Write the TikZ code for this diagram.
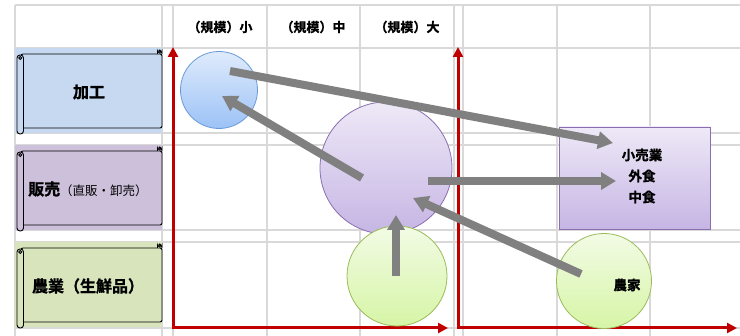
\documentclass[tikz,border=0pt]{standalone}
\usepackage{fontspec}
\setmainfont{Noto Sans CJK JP}[BoldFont={Noto Sans CJK JP Bold}, BoldFeatures={FakeBold=1.2}]
\usetikzlibrary{arrows.meta}
\definecolor{gridc}{HTML}{D9D9D9}
\definecolor{axisred}{HTML}{C00000}
\definecolor{arrowgray}{HTML}{808080}
\definecolor{kakofill}{HTML}{C6D9F0}
\definecolor{hanfill}{HTML}{CCC0DA}
\definecolor{nofill}{HTML}{D8E4BC}
\definecolor{bluetop}{HTML}{DFEBFC}
\definecolor{bluebot}{HTML}{9CC2F6}
\definecolor{bluebd}{HTML}{6A9BD8}
\definecolor{purtop}{HTML}{EEE9F7}
\definecolor{purbot}{HTML}{C6B5E4}
\definecolor{purbd}{HTML}{8A6EB0}
\definecolor{grntop}{HTML}{F2FBE5}
\definecolor{grnbot}{HTML}{D6F5A6}
\definecolor{grnbd}{HTML}{9BBB59}
\tikzset{
  gridline/.style={draw=gridc, line width=2pt},
  scrollline/.style={draw=black, line width=0.9pt},
  raxis/.style={draw=axisred, line width=3pt, {Triangle[width=10pt,length=10pt]}-{Triangle[width=10pt,length=10pt]}},
  garrow/.style={draw=arrowgray, line width=8pt, -{Triangle[width=17pt,length=15pt]}},
  bubble/.style={circle, inner sep=0pt, line width=0.8pt},
  head/.style={font=\bfseries\fontsize{13}{15}\selectfont},
  rowlbl/.style={font=\bfseries\fontsize{16}{19}\selectfont},
  boxtxt/.style={font=\bfseries\fontsize{13.5}{21}\selectfont, align=center},
}
\newcommand\scrollbox[2]{%
  \fill[#2] (15,#1) rectangle (162,#1+85);
  \draw[scrollline, fill=#2, rounded corners=2pt] (21,#1+6) -- (162,#1+6) -- (162,#1+80) -- (21,#1+80) -- cycle;
  \draw[scrollline, fill=#2] (157.5,#1+6) -- (157.5,#1+3) arc[start angle=180, end angle=0, radius=2.25] -- (162,#1+6);
  \draw[scrollline] (159.75,#1+3.2) circle (1.1);
  \draw[scrollline, fill=#2, rounded corners=3pt] (17,#1+7) rectangle (23.5,#1+86);
  \draw[scrollline] (20.25,#1+10) circle (1.6);
}
\begin{document}
\begin{tikzpicture}[x=1pt, y=-1pt]
\useasboundingbox (0,0) rectangle (740,336);
% grid
\foreach \gx in {15,162,173,267,360,454,463,557,650} \draw[gridline] (\gx,5) -- (\gx,336);
\foreach \gy in {5,48,133,145,230,242,328} \draw[gridline] (15,\gy) -- (740,\gy);
% header
\node[head] (h1) at (220,27) {（規模）小};
\node[head] (h2) at (313,27) {（規模）中};
\node[head] (h3) at (407,27) {（規模）大};
% scrolls
\scrollbox{48}{kakofill}
\scrollbox{145}{hanfill}
\scrollbox{242}{nofill}
\node[rowlbl] (kako) at (89,92) {加工};
\node[rowlbl] (hanbai) at (88,189) {販売\fontsize{12.5}{15}\mdseries（直販・卸売）};
\node[rowlbl] (nogyo) at (88,286) {農業（生鮮品）};
% axes
\coordinate (o1) at (173,328);
\coordinate (ya) at (173,47);
\coordinate (xa) at (448,328);
\coordinate (o2) at (458,328);
\coordinate (yb) at (458,47);
\coordinate (xb) at (737,328);
\draw[raxis] (ya) -- (o1) -- (xa);
\draw[raxis] (yb) -- (o2) -- (xb);
% bubbles
\node[bubble, draw=bluebd, top color=bluetop, bottom color=bluebot, minimum size=77pt] (small) at (219,90) {};
\node[bubble, draw=purbd, top color=purtop, bottom color=purbot, minimum size=132pt] (big) at (386,168) {};
\node[bubble, draw=grnbd, top color=grntop, bottom color=grnbot, minimum size=100pt] (farm) at (397,276) {};
\node[bubble, draw=grnbd, top color=grntop, bottom color=grnbot, minimum size=95pt] (noka) at (604,281) {};
\node[draw=purbd, line width=0.8pt, top color=purtop, bottom color=purbot, minimum width=151pt, minimum height=102pt, inner sep=0pt] (retail) at (634.5,178) {};
\node[boxtxt] (retailtxt) at (642,176) {小売業\\外食\\中食};
\node[boxtxt] (nokatxt) at (627,285) {農家};
% grey arrows
\coordinate (a1s) at (230,71);
\coordinate (a1e) at (613,143);
\coordinate (a2s) at (362,178);
\coordinate (a2e) at (222,96);
\coordinate (a3s) at (428,181);
\coordinate (a3e) at (616,181);
\coordinate (a4s) at (581,274);
\coordinate (a4e) at (413,198);
\coordinate (a5s) at (396,276);
\coordinate (a5e) at (396,215);
\draw[garrow] (a1s) -- (a1e);
\draw[garrow] (a2s) -- (a2e);
\draw[garrow] (a3s) -- (a3e);
\draw[garrow] (a4s) -- (a4e);
\draw[garrow] (a5s) -- (a5e);
\end{tikzpicture}
\end{document}
